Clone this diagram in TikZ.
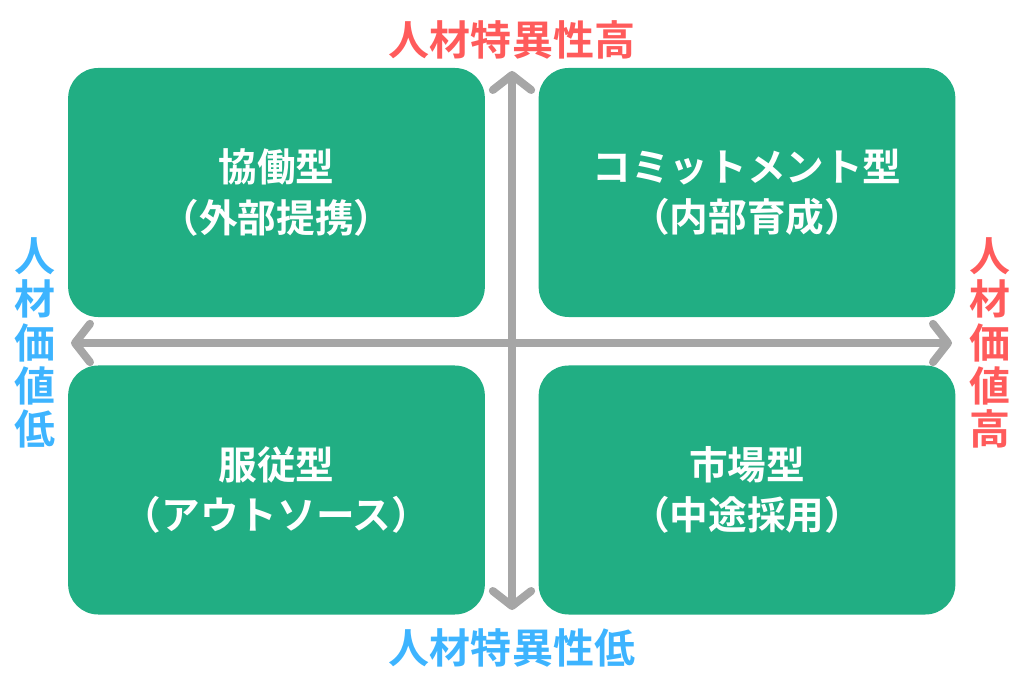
\documentclass[tikz,border=0pt]{standalone}
\usepackage{fontspec}
\setmainfont{Noto Sans CJK JP}[BoldFont={Noto Sans CJK JP Bold}]
\usetikzlibrary{arrows.meta, positioning}
\definecolor{QuadGreen}{HTML}{21AE83}
\definecolor{AxisGray}{HTML}{A6A6A6}
\definecolor{HighRed}{HTML}{FF5B5B}
\definecolor{LowBlue}{HTML}{3DB4FF}

\begin{document}
\begin{tikzpicture}[
    x=0.03cm, y=-0.03cm,
    font=\bfseries,
    quad/.style={rectangle, fill=QuadGreen, rounded corners=0.9cm, minimum width=12.5cm, minimum height=7.47cm, align=center, text=white, font=\fontsize{33}{43}\selectfont\bfseries, inner sep=0pt},
    axis/.style={{Straight Barb[length=0.45cm, width=1.15cm, round]}-{Straight Barb[length=0.45cm, width=1.15cm, round]}, line width=0.24cm, color=AxisGray, line cap=round, shorten <=0.03cm, shorten >=0.03cm},
    hilabel/.style={text=HighRed, font=\fontsize{35}{37}\selectfont\bfseries, inner sep=0pt, align=center},
    lolabel/.style={text=LowBlue, font=\fontsize{35}{37}\selectfont\bfseries, inner sep=0pt, align=center}
]
    \useasboundingbox (0,0) rectangle (1024,683);

    % Quadrants
    \node[quad] (cooperate) at (276.5,192.5) {協働型\\（外部提携）};
    \node[quad] (commit) at (747,192.5) {コミットメント型\\（内部育成）};
    \node[quad] (obey) at (276.5,490) {服従型\\（アウトソース）};
    \node[quad] (market) at (747,490) {市場型\\（中途採用）};

    % Axes
    \coordinate (vtop) at (512,70);
    \coordinate (vbot) at (512,611);
    \coordinate (hleft) at (70,343);
    \coordinate (hright) at (953,343);
    \draw[axis] (vbot) -- (vtop);
    \draw[axis] (hleft) -- (hright);

    % Axis labels
    \node[hilabel] (spechi) at (512,40) {人材特異性高};
    \node[lolabel] (speclo) at (512,648) {人材特異性低};
    \node[lolabel] (vallo) at (35,343) {人\\材\\価\\値\\低};
    \node[hilabel] (valhi) at (990,343) {人\\材\\価\\値\\高};
\end{tikzpicture}
\end{document}
